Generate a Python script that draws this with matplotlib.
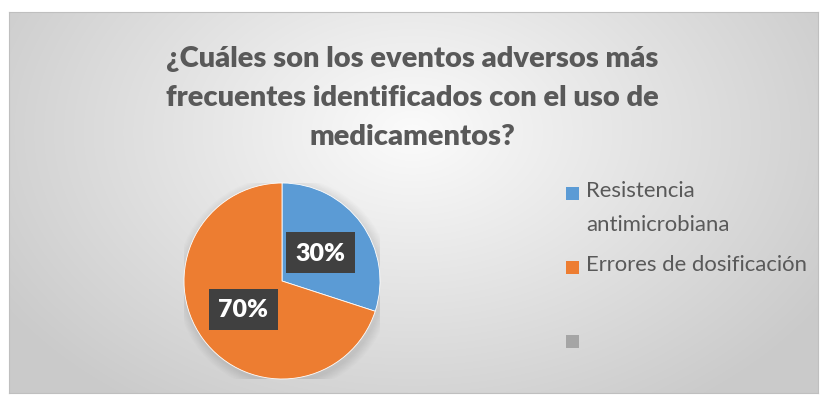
import numpy as np
import matplotlib.pyplot as plt
from matplotlib.patches import Rectangle

# data
categorias = ["Resistencia\nantimicrobiana", "Errores de dosificación", ""]
valores = [30, 70, 0]
colores = ["#5B9BD5", "#ED7D31", "#A5A5A5"]
titulo = "¿Cuáles son los eventos adversos más\nfrecuentes identificados con el uso de\nmedicamentos?"

W, H = 824, 402
fig = plt.figure(figsize=(W / 100, H / 100), dpi=100)
fig.patch.set_facecolor("white")

# chart area with radial gradient
x0, x1, y0, y1 = 9, 818, 13, 394
bg = fig.add_axes([x0 / W, 1 - y1 / H, (x1 - x0) / W, (y1 - y0) / H])
yy, xx = np.mgrid[0:y1 - y0, 0:x1 - x0]
d = np.sqrt(((xx - 403) / 480.0) ** 2 + ((yy - 120) / 330.0) ** 2)
d = np.clip(d, 0, 1)
g = 0.985 - 0.19 * d
bg.imshow(np.dstack([g, g, g]), aspect="auto", interpolation="bilinear")
bg.set_xticks([])
bg.set_yticks([])
for s in bg.spines.values():
    s.set_color("#BFBFBF")
    s.set_linewidth(0.8)

plt.rcParams["font.family"] = ["Lato", "DejaVu Sans"]

fig.text(412 / W, 1 - 98 / H, titulo, ha="center", va="center",
         fontsize=21, fontweight="heavy", color="#595959", linespacing=1.6)

# pie
cx, cy, r = 282, 282, 98
ax = fig.add_axes([(cx - r) / W, 1 - (cy + r) / H, 2 * r / W, 2 * r / H])
ax.patch.set_alpha(0)

# soft shadow
for i in range(8):
    ax.add_patch(plt.Circle((0.02, -0.03), 1.0 + 0.012 * (8 - i),
                            color="black", alpha=0.012, lw=0, zorder=0))

wedges, texts, autotexts = ax.pie(
    valores[:2], colors=colores[:2], startangle=90, counterclock=False,
    autopct="%1.0f%%", pctdistance=0.49,
    wedgeprops=dict(linewidth=0.6, edgecolor="white"))
ax.set_xlim(-1, 1)
ax.set_ylim(-1, 1)
for t in autotexts:
    t.set_color("white")
    t.set_fontweight("heavy")
    t.set_fontsize(18)
    t.set_bbox(dict(boxstyle="square,pad=0.38", facecolor="#404040",
                    edgecolor="none", linewidth=0))

# legend
ly = [194, 268, 342]
for cat, col, y in zip(categorias, colores, ly):
    fig.patches.append(Rectangle((566 / W, 1 - (y + 7) / H), 13 / W, 13 / H,
                                 transform=fig.transFigure, facecolor=col,
                                 edgecolor="none"))
    if cat:
        fig.text(586 / W, 1 - (y - 13) / H, cat, ha="left", va="top",
                 fontsize=15.9, color="#595959", linespacing=1.85)

fig.savefig("out.png", dpi=100)
